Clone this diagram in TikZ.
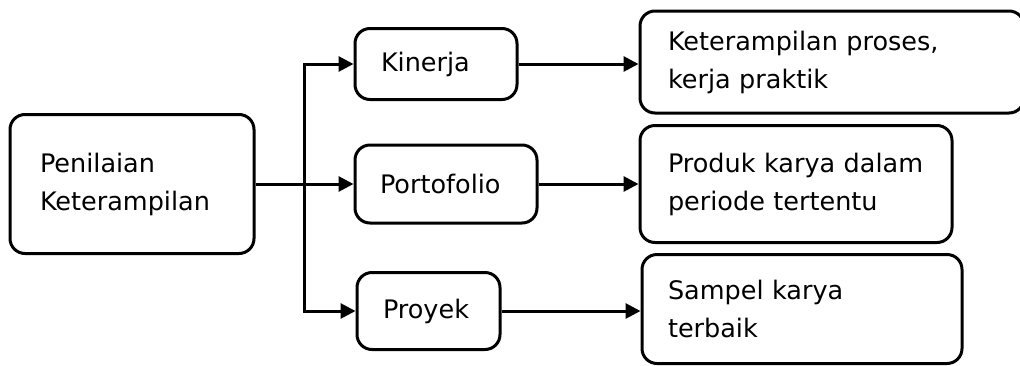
\documentclass[tikz,border=0pt]{standalone}
\usepackage{fontspec}
\setmainfont{DejaVu Sans}
\usepackage{tikz}
\usetikzlibrary{arrows.meta, positioning}

\begin{document}
\begin{tikzpicture}[
  x=1pt, y=-1pt,
  box/.style={rectangle, rounded corners=15pt, draw, line width=3pt,
              align=left, inner xsep=0pt, font=\fontsize{25.5}{38}\selectfont},
  arrow/.style={-{Triangle[length=15pt, width=15pt]}, line width=3pt}
]
\useasboundingbox (0,0) rectangle (1020,365);

% Root
\node[box, minimum width=244pt, minimum height=139pt,
      text width=184pt] (pen) at (132,184) {Penilaian\\Keterampilan};

% Assessment kinds
\node[box, minimum width=162pt, minimum height=71pt,
      text width=110pt] (kin) at (436,64) {Kinerja};
\node[box, minimum width=182pt, minimum height=78pt,
      text width=132pt] (port) at (446,184) {Portofolio};
\node[box, minimum width=143pt, minimum height=77pt,
      text width=91pt] (proy) at (428.5,311) {Proyek};

% Results
\node[box, minimum width=384pt, minimum height=102pt,
      text width=328pt] (ket) at (832,62) {Keterampilan proses,\\kerja praktik};
\node[box, minimum width=312pt, minimum height=117pt,
      text width=256pt] (prod) at (796,184) {Produk karya dalam\\periode tertentu};
\node[box, minimum width=320pt, minimum height=109pt,
      text width=268pt] (samp) at (802,309) {Sampel karya\\terbaik};

\coordinate (split) at (304,184);

% Arrows
\draw[arrow] (pen) -- (port);
\draw[arrow] (split) |- (kin.west);
\draw[arrow] (split) |- (proy.west);
\draw[arrow] (kin) -- (kin -| ket.west);
\draw[arrow] (port) -- (prod);
\draw[arrow] (proy) -- (proy -| samp.west);
\end{tikzpicture}
\end{document}
